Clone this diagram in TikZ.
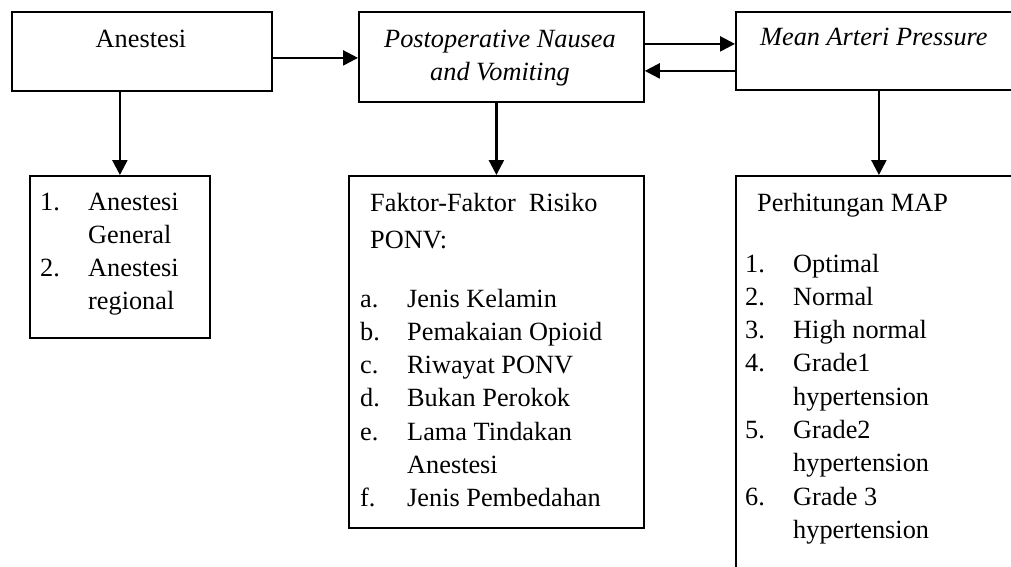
\documentclass[tikz,border=0pt]{standalone}
\usepackage{fontspec}
\setmainfont{Liberation Serif}
\usetikzlibrary{arrows.meta}

\tikzset{
  box/.style={draw,line width=1.8pt,inner sep=0pt,anchor=north west},
  arr/.style={line width=2.4pt,-{Triangle[length=15pt,width=15pt]}},
  txt/.style={inner sep=0pt,font=\fontsize{26.3}{33.3}\selectfont}
}

\begin{document}
\begin{tikzpicture}[x=1pt,y=-1pt]
    \useasboundingbox (0,0) rectangle (1011,566);
    \clip (0,0) rectangle (1011,566);

    % top row
    \node[box,minimum width=260pt,minimum height=79pt] (anes) at (11,11) {};
    \node[box,minimum width=285pt,minimum height=90pt] (ponv) at (358,11) {};
    \node[box,minimum width=286pt,minimum height=78pt] (map) at (735,11) {};

    \node[txt,anchor=base] (anesT) at (141,47) {Anestesi};
    \node[txt,anchor=base,font=\fontsize{26.3}{33.3}\selectfont\itshape] (ponvT) at (500,47)
        {\begin{tabular}[t]{@{}c@{}}Postoperative Nausea\\ and Vomiting\end{tabular}};
    \node[txt,anchor=base west] (mapT) at (760,45) {\textit{Mean Arteri Pressure}};

    % bottom row
    \node[box,minimum width=180pt,minimum height=162pt] (jenis) at (29,175) {};
    \node[box,minimum width=295pt,minimum height=352pt] (faktor) at (348,175) {};
    \node[box,minimum width=286pt,minimum height=405pt] (hitung) at (735,175) {};

    \node[txt,anchor=base west] (jenisT) at (40,210)
        {\begin{tabular}[t]{@{}p{48pt}@{}l@{}}
            1. & Anestesi\\
               & General\\
            2. & Anestesi\\
               & regional
        \end{tabular}};
    \node[txt,anchor=base west] (faktorT) at (360,211)
        {\begin{tabular}[t]{@{}p{47pt}@{}l@{}}
            \multicolumn{2}{@{\hspace{10pt}}l@{}}{Faktor-Faktor\ \ Risiko}\\[3.7pt]
            \multicolumn{2}{@{\hspace{10pt}}l@{}}{PONV:}\\[25.7pt]
            a. & Jenis Kelamin\\
            b. & Pemakaian Opioid\\
            c. & Riwayat PONV\\
            d. & Bukan Perokok\\
            e. & Lama Tindakan\\
               & Anestesi\\
            f. & Jenis Pembedahan
        \end{tabular}};
    \node[txt,anchor=base west] (hitungT) at (745,211)
        {\begin{tabular}[t]{@{}p{48pt}@{}l@{}}
            \multicolumn{2}{@{\hspace{12pt}}l@{}}{Perhitungan MAP}\\[27.7pt]
            1. & Optimal\\
            2. & Normal\\
            3. & High normal\\
            4. & Grade1\\
               & hypertension\\
            5. & Grade2\\
               & hypertension\\
            6. & Grade 3\\
               & hypertension
        \end{tabular}};

    % links
    \draw[arr] ([yshift=-6.5pt]anes.east) -- ([yshift=-6.5pt]anes.east -| ponv.west);
    \draw[arr] ([yshift=13pt]ponv.east) -- ([yshift=13pt]ponv.east -| map.west);
    \draw[arr] ([yshift=-14pt]ponv.east -| map.west) -- ([yshift=-14pt]ponv.east);

    \draw[arr] (anes.south -| jenis.north) -- (jenis.north);
    \draw[arr] (ponv.south -| faktor.north) -- (faktor.north);
    \draw[arr] (map.south) -- (hitung.north);
\end{tikzpicture}
\end{document}
